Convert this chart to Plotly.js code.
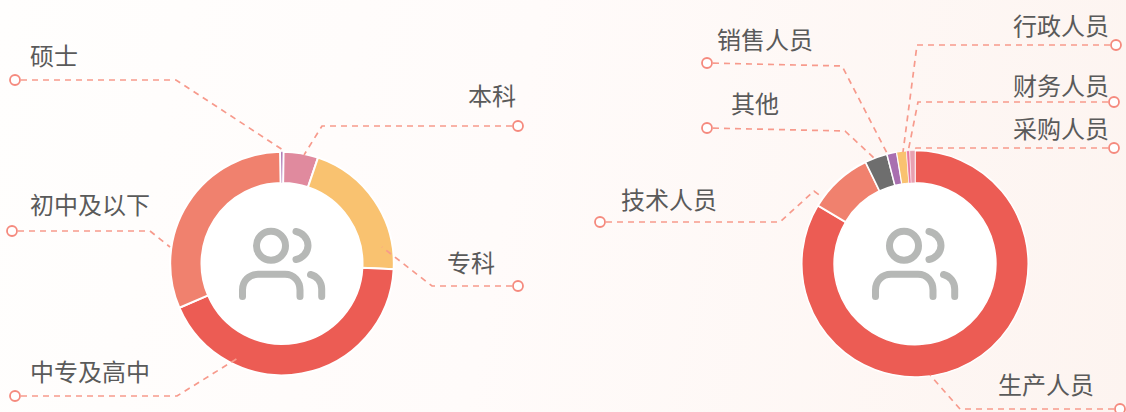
<!DOCTYPE html>
<html>
<head>
<meta charset="utf-8">
<script src="https://cdn.plot.ly/plotly-3.0.1.min.js"></script>
<style>
html,body{margin:0;padding:0;width:1126px;height:412px;overflow:hidden;
background:linear-gradient(100deg,#fffefd 0%,#fffbfa 45%,#fdf4f0 100%);}
#chart{width:1126px;height:412px;}
path[style*="rgb(182, 184, 182)"]{stroke-linecap:round;}
</style>
</head>
<body>
<div id="chart"></div>
<script>
// Left donut: education
const eduLabels = ['硕士','本科','专科','中专及高中','初中及以下'];
const eduValues = [0.5,5.0,20.6,42.7,31.2];
const eduColors = ['#a96fb0','#e08a9e','#f9c270','#ec5c54','#f0816e'];
const eduBorders = [0.5,2,2,2,2];
// Right donut: job role
const jobLabels = ['生产人员','技术人员','其他','销售人员','行政人员','财务人员','采购人员'];
const jobValues = [83.6,9.2,3.2,1.4,1.4,0.45,0.75];
const jobColors = ['#ec5c54','#f0816e','#6e6e6e','#a96fb0','#f9c270','#e878a0','#e8a0b0'];
const jobBorders = [1.5,2,1.5,1.5,1,0.5,0.5];

// Callouts: label, text-left x, text-mid y, leader polyline in page pixels
const callouts = [
  ['硕士',28,54,[[15,80],[176,80],[283,150]]],
  ['本科',466,94,[[518,126],[322,126],[304,155]]],
  ['专科',445,261,[[518,286],[432,286],[382,247]]],
  ['初中及以下',28,203,[[12,231],[150,231],[170,247]]],
  ['中专及高中',28,370,[[15,396],[177,396],[238,358]]],
  ['销售人员',715,38,[[707,63],[842,66],[888,155]]],
  ['其他',729,102,[[707,128],[845,131],[874,158]]],
  ['技术人员',619,198,[[600,222],[780,222],[814,191],[822,197]]],
  ['行政人员',1011,24,[[1116,45],[917,45],[903,152]]],
  ['财务人员',1011,84,[[1114,102],[918,102],[908,152]]],
  ['采购人员',1011,127,[[1114,148],[916,148],[912,152]]],
  ['生产人员',996,383,[[1120,409],[960,409],[930,375]]]
];
const W = 1126, H = 412;
const iconColor = 'rgb(182,184,182)';
const iconOffsets = [0,633];

function dom(cx,cy,r){return {x:[(cx-r)/W,(cx+r)/W],y:[1-(cy+r)/H,1-(cy-r)/H]};}

const pie = (labels,values,colors,borders,domain,hole,rotation)=>({
  type:'pie',labels,values,domain,hole,rotation,direction:'clockwise',sort:false,
  marker:{colors,line:{color:'#ffffff',width:borders}},textinfo:'none',hoverinfo:'none',showlegend:false
});

const shapes = [];
[[282,263.5,80.5],[915,263.8,81]].forEach(([cx,cy,r])=>shapes.push({
  type:'circle',layer:'below',xref:'x',yref:'y',x0:cx-r,x1:cx+r,y0:cy-r,y1:cy+r,
  fillcolor:'#ffffff',line:{width:0}
}));
callouts.forEach(c=>{
  const pts=c[3], a=pts[0], b=pts[1], len=Math.hypot(b[0]-a[0],b[1]-a[1]);
  const start=[a[0]+(b[0]-a[0])*6/len, a[1]+(b[1]-a[1])*6/len];
  shapes.push({
    type:'path',layer:'above',xref:'x',yref:'y',
    path:'M'+[start].concat(pts.slice(1)).map(p=>p.join(',')).join(' L'),
    line:{color:'#f79a8c',width:1.7,dash:'6px,5px'}
  });
});
iconOffsets.forEach(dx=>{
  const X=v=>v+dx;
  const k=8;
  [
    `M${X(256.5)},245.7 C${X(256.5)},${245.7-k} ${X(263)},231.2 ${X(271)},231.2 C${X(279)},231.2 ${X(285.5)},${245.7-k} ${X(285.5)},245.7 C${X(285.5)},${245.7+k} ${X(279)},260.2 ${X(271)},260.2 C${X(263)},260.2 ${X(256.5)},${245.7+k} ${X(256.5)},245.7 Z`,
    `M${X(296)},231.5 C${X(302)},232.5 ${X(308)},238 ${X(308)},245.5 C${X(308)},253 ${X(302)},258.5 ${X(296)},259.5`,
    `M${X(242.5)},296.5 L${X(242.5)},290 C${X(242.5)},281 ${X(249)},274.3 ${X(258)},274.3 L${X(285)},274.3 C${X(294)},274.3 ${X(300)},281 ${X(300)},290 L${X(300)},296.5`,
    `M${X(310.5)},274.5 C${X(317)},276 ${X(321.7)},282 ${X(321.7)},289 L${X(321.7)},296.5`
  ].forEach(p=>shapes.push({type:'path',layer:'above',xref:'x',yref:'y',path:p,
    line:{color:iconColor,width:7}}));
});

const annotations = callouts.map(c=>({
  xref:'x',yref:'y',x:c[1],y:c[2],text:c[0],showarrow:false,xanchor:'left',yanchor:'middle',
  font:{family:'"Noto Sans CJK SC","Noto Sans",sans-serif',size:24,color:'#5a5a5a'}
}));

const ends = {
  type:'scatter',mode:'markers',xaxis:'x',yaxis:'y',
  x:callouts.map(c=>c[3][0][0]),y:callouts.map(c=>c[3][0][1]),
  marker:{size:10,color:'#ffffff',line:{color:'#f58a7e',width:1.8}},hoverinfo:'none',showlegend:false,cliponaxis:false
};

Plotly.newPlot('chart',[
  ends,
  pie(eduLabels,eduValues,eduColors,eduBorders,dom(282,263.5,111.8),0.72,-1),
  pie(jobLabels,jobValues,jobColors,jobBorders,dom(915,263.8,113.2),0.715,0)
],{
  width:W,height:H,margin:{l:0,r:0,t:0,b:0,pad:0},
  paper_bgcolor:'rgba(0,0,0,0)',plot_bgcolor:'rgba(0,0,0,0)',
  xaxis:{range:[0,W],visible:false,fixedrange:true,domain:[0,1]},
  yaxis:{range:[H,0],visible:false,fixedrange:true,domain:[0,1]},
  shapes,annotations,showlegend:false
},{displayModeBar:false,staticPlot:true});
</script>
</body>
</html>
